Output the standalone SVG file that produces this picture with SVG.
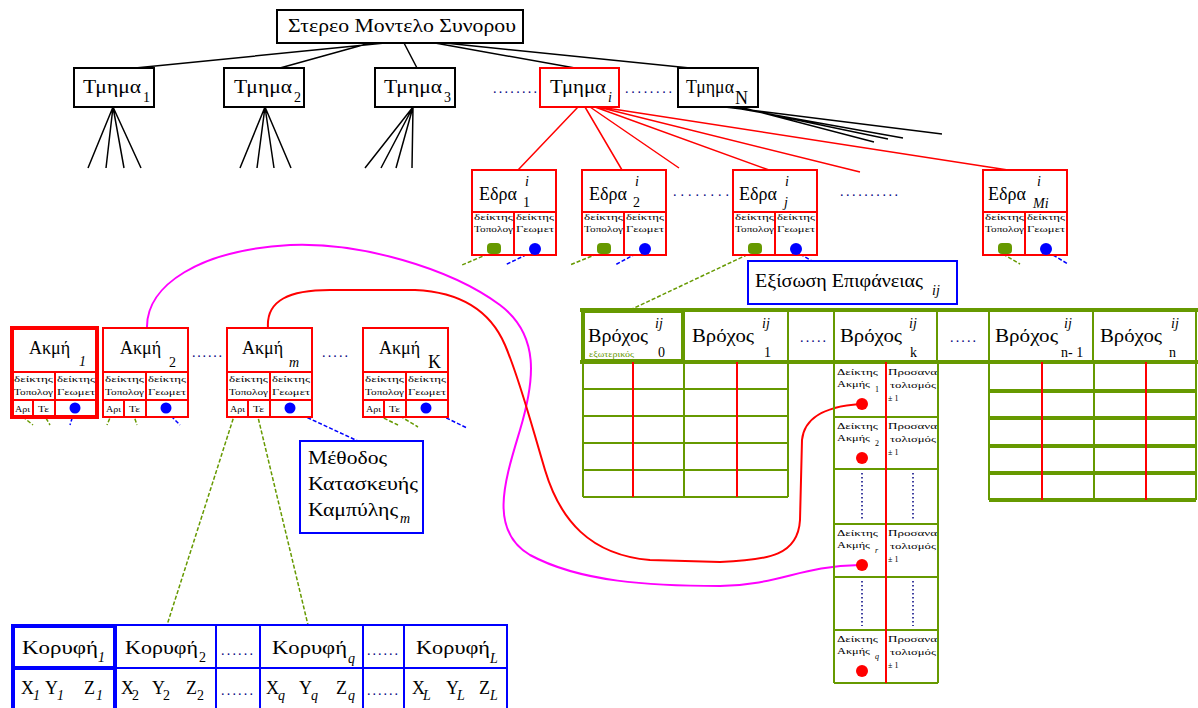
<svg xmlns="http://www.w3.org/2000/svg" width="1198" height="708" viewBox="0 0 1198 708">
<style>
text{font-family:"Liberation Serif","DejaVu Serif",serif;fill:#000}
.lbl{font-size:18px}
.sub{font-size:14px;font-style:italic}
.subn{font-size:14px}
.tiny{font-size:8px}
.dots{font-size:14px;fill:#000080}
.bx{fill:#fff;stroke:#000;stroke-width:2}
.rbx{fill:#fff;stroke:#f00;stroke-width:2}
.bbx{fill:#fff;stroke:#00f;stroke-width:2}
.kl{stroke:#000;stroke-width:1.5;fill:none}
.rl{stroke:#f00;stroke-width:1.5;fill:none}
.rl2{stroke:#f00;stroke-width:2;fill:none}
.gl{stroke:#669900;stroke-width:1.5;fill:none;stroke-dasharray:4 2}
.bl{stroke:#00f;stroke-width:1.5;fill:none;stroke-dasharray:4 2}
.gg{stroke:#669900;stroke-width:2;fill:none}
.gt{stroke:#669900;stroke-width:4;fill:none}
.rv{stroke:#f00;stroke-width:2;fill:none}
.bg{stroke:#00f;stroke-width:2;fill:none}
.vd{stroke:#000080;stroke-width:1.5;stroke-dasharray:1.5 2.5;fill:none}
.pk{stroke:#f0f;stroke-width:2;fill:none}
.rc{stroke:#f00;stroke-width:2;fill:none}
</style>
<defs>
<g id="edraBody">
<rect x="0" y="0" width="84" height="85" class="rbx"/>
<path d="M0,42H84M42,42V85" class="rl2"/>
<text class="tiny" x="2" y="50" textLength="39" lengthAdjust="spacingAndGlyphs">δείκτης</text>
<text class="tiny" x="2" y="62" textLength="39" lengthAdjust="spacingAndGlyphs">Τοπολογ</text>
<text class="tiny" x="44" y="50" textLength="38" lengthAdjust="spacingAndGlyphs">δείκτης</text>
<text class="tiny" x="44" y="62" textLength="38" lengthAdjust="spacingAndGlyphs">Γεωμετ</text>
<rect x="15" y="73" width="14" height="11" rx="4" fill="#669900"/>
<circle cx="63" cy="79" r="6" fill="#00f"/>
</g>
<g id="akmiBody">
<rect x="0" y="0" width="85" height="89" class="rbx"/>
<path d="M0,44H85M0,72H85M43,44V89M21,72V89" class="rl2"/>
<text class="tiny" x="2" y="54" textLength="39" lengthAdjust="spacingAndGlyphs">δείκτης</text>
<text class="tiny" x="2" y="67" textLength="39" lengthAdjust="spacingAndGlyphs">Τοπολογ</text>
<text class="tiny" x="45" y="54" textLength="38" lengthAdjust="spacingAndGlyphs">δείκτης</text>
<text class="tiny" x="45" y="67" textLength="38" lengthAdjust="spacingAndGlyphs">Γεωμετ</text>
<text class="tiny" x="3" y="84" textLength="15" lengthAdjust="spacingAndGlyphs">Αρι</text>
<text class="tiny" x="26" y="84" textLength="11" lengthAdjust="spacingAndGlyphs">Τε</text>
<circle cx="63" cy="80" r="5.5" fill="#00f"/>
</g>
</defs>
<rect width="1198" height="708" fill="#fff"/>

<g id="connectors">
<path class="kl" d="M385,43L135,68M370,43L280,68M404,43L417,68M435,43L575,68M445,43L690,68"/>
<path class="kl" d="M113,107L88,168M113,107L106,168M113,107L124,168M113,107L141,168"/>
<path class="kl" d="M265,107L240,168M265,107L257,168M265,107L274,168M265,107L291,168"/>
<path class="kl" d="M413,107L365,168M413,107L381,168M413,107L396,168M413,107L412,168"/>
<path class="kl" d="M725,107L942,134M730,107L903,138M735,107L888,139M740,107L874,142"/>
<path class="rl" d="M578,107L518,170M585,107L622,170M590,107L679,168M595,107L769,170M598,107L860,172M600,107L1008,170"/>
<path class="gl" d="M488,254L462,265M597,254L570,265M1003,254L1020,264M753,252L630,310"/>
<path class="bl" d="M532,252L505,265M641,251L615,265M1048,252L1068,264M795,251L812,261"/>
<path class="gl" d="M18,413L33,425M43,413L50,425M112,413L107,425M133,413L137,425M235,413L167,625M257,413L308,625M373,413L398,425M395,413L418,427"/>
<path class="bl" d="M74,412L70,425M167,412L180,425M291,410L360,442M430,410L467,428"/>
<path class="pk" d="M147,328C146,285 200,250 290,245C360,242 450,268 500,305C540,335 535,380 520,430C505,480 488,530 530,555C580,582 650,586 720,586C780,585 800,566 860,565"/>
<path class="rc" d="M268,328C266,300 290,290 330,290L415,290C460,292 490,310 505,345C520,380 530,420 545,470C560,520 590,555 650,560L720,562C770,560 798,555 800,520L802,440C804,420 820,407 860,404"/>
</g>

<g id="root">
<rect x="277" y="10" width="246" height="33" class="bx"/>
<text class="lbl" x="288" y="32" textLength="228" lengthAdjust="spacingAndGlyphs">Στερεο Μοντελο Συνορου</text>
</g>

<g id="tmima1"><rect x="74" y="68" width="80" height="39" class="bx"/><text class="lbl" x="83" y="93" textLength="58" lengthAdjust="spacingAndGlyphs">Τμημα</text><text class="subn" x="143" y="102">1</text></g>
<g id="tmima2"><rect x="224" y="68" width="80" height="39" class="bx"/><text class="lbl" x="234" y="93" textLength="58" lengthAdjust="spacingAndGlyphs">Τμημα</text><text class="subn" x="294" y="102">2</text></g>
<g id="tmima3"><rect x="375" y="68" width="80" height="39" class="bx"/><text class="lbl" x="384" y="93" textLength="58" lengthAdjust="spacingAndGlyphs">Τμημα</text><text class="subn" x="444" y="102">3</text></g>
<text class="dots" x="493" y="93" textLength="44">........</text>
<g id="tmimai"><rect x="540" y="68" width="79" height="39" class="rbx"/><text class="lbl" x="550" y="93" textLength="56" lengthAdjust="spacingAndGlyphs">Τμημα</text><text class="sub" x="608" y="102">i</text></g>
<text class="dots" x="625" y="93" textLength="47">........</text>
<g id="tmimaN"><rect x="678" y="68" width="80" height="39" class="bx"/><text class="lbl" x="686" y="93" textLength="48" lengthAdjust="spacingAndGlyphs">Τμημα</text><text class="lbl" x="735" y="104">N</text></g>

<g id="edra1"><use href="#edraBody" x="472" y="170"/><text class="lbl" x="479" y="200" font-size="17">Εδρα</text><text class="sub" x="525" y="186">i</text><text class="subn" x="523" y="207">1</text></g>
<g id="edra2"><use href="#edraBody" x="582" y="170"/><text class="lbl" x="589" y="200" font-size="17">Εδρα</text><text class="sub" x="635" y="186">i</text><text class="subn" x="633" y="207">2</text></g>
<text class="dots" x="673" y="196" textLength="56">........</text>
<g id="edraj"><use href="#edraBody" x="733" y="170"/><text class="lbl" x="739" y="200" font-size="17">Εδρα</text><text class="sub" x="785" y="186">i</text><text class="sub" x="784" y="207">j</text></g>
<text class="dots" x="840" y="196" textLength="58">..........</text>
<g id="edraMi"><use href="#edraBody" x="983" y="170"/><text class="lbl" x="988" y="200" font-size="17">Εδρα</text><text class="sub" x="1037" y="186">i</text><text class="sub" x="1033" y="208">Mi</text></g>

<g id="exisosi"><rect x="748" y="261" width="209" height="43" class="bbx"/><text class="lbl" x="755" y="287" font-size="17" textLength="168" lengthAdjust="spacingAndGlyphs">Εξίσωση Επιφάνειας</text><text class="sub" x="932" y="295">ij</text></g>

<g id="akmi1"><use href="#akmiBody" x="12" y="328"/><rect x="12" y="328" width="85" height="89" fill="none" stroke="#f00" stroke-width="4"/><path d="M12,400H55V417" class="rl2" stroke-width="3"/><text class="lbl" x="29" y="354" font-size="17">Ακμή</text><text class="sub" x="79" y="366">1</text></g>
<g id="akmi2"><use href="#akmiBody" x="103" y="328"/><text class="lbl" x="120" y="354" font-size="17">Ακμή</text><text class="subn" x="169" y="367">2</text></g>
<text class="dots" x="192" y="357" textLength="30">......</text>
<g id="akmim"><use href="#akmiBody" x="227" y="328"/><text class="lbl" x="242" y="354" font-size="17">Ακμή</text><text class="sub" x="289" y="367">m</text></g>
<text class="dots" x="322" y="357" textLength="26">.....</text>
<g id="akmiK"><use href="#akmiBody" x="363" y="328"/><text class="lbl" x="379" y="354" font-size="17">Ακμή</text><text class="lbl" x="428" y="368" font-size="16">K</text></g>

<g id="methodos"><rect x="300" y="441" width="123" height="92" class="bbx"/><text class="lbl" x="308" y="464" font-size="17" textLength="79" lengthAdjust="spacingAndGlyphs">Μέθοδος</text><text class="lbl" x="308" y="490" font-size="17" textLength="110" lengthAdjust="spacingAndGlyphs">Κατασκευής</text><text class="lbl" x="308" y="516" font-size="17" textLength="90" lengthAdjust="spacingAndGlyphs">Καμπύλης</text><text class="sub" x="400" y="523">m</text></g>

<g id="vrochoi">
<path class="gt" d="M580,310H1198M580,362H1198"/>
<rect x="583" y="311" width="100" height="50" fill="none" stroke="#669900" stroke-width="4"/>
<path class="gg" d="M788,310V362M834,310V362M937,310V362M989,310V362M1093,310V362M1196,310V362" stroke-width="2.5"/>
<path class="gg" d="M684,310V362" stroke-width="3"/>
<text class="lbl" x="588" y="342" font-size="17" textLength="60" lengthAdjust="spacingAndGlyphs">Βρόχος</text><text class="sub" x="655" y="328">ij</text><text class="subn" x="658" y="357">0</text>
<text x="589" y="357" font-size="8" style="fill:#669900" textLength="45" lengthAdjust="spacingAndGlyphs">εξωτερικός</text>
<text class="lbl" x="692" y="342" font-size="17" textLength="62" lengthAdjust="spacingAndGlyphs">Βρόχος</text><text class="sub" x="762" y="328">ij</text><text class="subn" x="764" y="357">1</text>
<text class="dots" x="800" y="342" textLength="26">.....</text>
<text class="lbl" x="840" y="342" font-size="17" textLength="62" lengthAdjust="spacingAndGlyphs">Βρόχος</text><text class="sub" x="909" y="328">ij</text><text class="subn" x="910" y="357">k</text>
<text class="dots" x="950" y="342" textLength="26">.....</text>
<text class="lbl" x="995" y="342" font-size="17" textLength="63" lengthAdjust="spacingAndGlyphs">Βρόχος</text><text class="sub" x="1064" y="328">ij</text><text class="subn" x="1061" y="357">n- 1</text>
<text class="lbl" x="1100" y="342" font-size="17" textLength="62" lengthAdjust="spacingAndGlyphs">Βρόχος</text><text class="sub" x="1171" y="328">ij</text><text class="subn" x="1169" y="357">n</text>
<path class="gg" d="M583,389H788M583,416H788M583,443H788M583,470H788M583,497H788M583,362V497M684,362V497M788,362V497"/>
<path class="rv" d="M633,362V497M737,362V497"/>
<path class="gg" d="M989,362V500M1094,362V500M1196,362V500" stroke-width="2.5"/>
<path class="gt" d="M989,391H1196M989,418H1196M989,446H1196M989,473H1196M989,500H1196"/>
<path class="rv" d="M1042,362V500M1146,362V500"/>
<path class="gg" d="M834,362V683M938,362V683M834,417H938M834,469H938M834,524H938M834,577H938M834,630H938M834,683H938"/>
<path class="rv" d="M886,362V683"/>
<path class="vd" d="M862,473V520M913,473V520M862,581V626M913,581V626"/>
<g>
<text class="tiny" x="837" y="375" textLength="41" lengthAdjust="spacingAndGlyphs">Δείκτης</text><text class="tiny" x="837" y="387" textLength="33" lengthAdjust="spacingAndGlyphs">Ακμής</text><text class="tiny" x="875" y="392">1</text>
<text class="tiny" x="888" y="375" textLength="49" lengthAdjust="spacingAndGlyphs">Προσανα</text><text class="tiny" x="890" y="388" textLength="46" lengthAdjust="spacingAndGlyphs">τολισμός</text><text class="tiny" x="888" y="401">± 1</text>
<text class="tiny" x="837" y="429" textLength="41" lengthAdjust="spacingAndGlyphs">Δείκτης</text><text class="tiny" x="837" y="441" textLength="33" lengthAdjust="spacingAndGlyphs">Ακμής</text><text class="tiny" x="875" y="446">2</text>
<text class="tiny" x="888" y="429" textLength="49" lengthAdjust="spacingAndGlyphs">Προσανα</text><text class="tiny" x="890" y="442" textLength="46" lengthAdjust="spacingAndGlyphs">τολισμός</text><text class="tiny" x="888" y="455">± 1</text>
<text class="tiny" x="837" y="536" textLength="41" lengthAdjust="spacingAndGlyphs">Δείκτης</text><text class="tiny" x="837" y="548" textLength="33" lengthAdjust="spacingAndGlyphs">Ακμής</text><text class="tiny" x="875" y="553" font-style="italic">r</text>
<text class="tiny" x="888" y="536" textLength="49" lengthAdjust="spacingAndGlyphs">Προσανα</text><text class="tiny" x="890" y="549" textLength="46" lengthAdjust="spacingAndGlyphs">τολισμός</text><text class="tiny" x="888" y="562">± 1</text>
<text class="tiny" x="837" y="642" textLength="41" lengthAdjust="spacingAndGlyphs">Δείκτης</text><text class="tiny" x="837" y="654" textLength="33" lengthAdjust="spacingAndGlyphs">Ακμής</text><text class="tiny" x="875" y="659" font-style="italic">q</text>
<text class="tiny" x="888" y="642" textLength="49" lengthAdjust="spacingAndGlyphs">Προσανα</text><text class="tiny" x="890" y="655" textLength="46" lengthAdjust="spacingAndGlyphs">τολισμός</text><text class="tiny" x="888" y="668">± 1</text>
</g>
<circle cx="862" cy="404" r="6" fill="#f00"/><circle cx="862" cy="458" r="6" fill="#f00"/><circle cx="862" cy="565" r="6" fill="#f00"/><circle cx="862" cy="671" r="6" fill="#f00"/>
</g>

<g id="koryfes">
<rect x="12" y="625" width="495" height="90" class="bbx"/>
<path class="bg" d="M12,668H507M115,625V708M216,625V708M260,625V708M363,625V708M404,625V708"/>
<rect x="13" y="626" width="102" height="88" fill="none" stroke="#00f" stroke-width="4"/>
<path d="M13,668H115" stroke="#00f" stroke-width="4"/>
<text class="lbl" x="22" y="654" font-size="17" textLength="76" lengthAdjust="spacingAndGlyphs">Κορυφή</text><text class="sub" x="98" y="662">1</text>
<text class="lbl" x="125" y="654" font-size="17" textLength="73" lengthAdjust="spacingAndGlyphs">Κορυφή</text><text class="subn" x="199" y="662">2</text>
<text class="dots" x="221" y="655" textLength="32">......</text>
<text class="lbl" x="272" y="654" font-size="17" textLength="75" lengthAdjust="spacingAndGlyphs">Κορυφή</text><text class="sub" x="348" y="663">q</text>
<text class="dots" x="367" y="655" textLength="31">......</text>
<text class="lbl" x="416" y="654" font-size="17" textLength="74" lengthAdjust="spacingAndGlyphs">Κορυφή</text><text class="sub" x="490" y="663">L</text>
<text class="lbl" x="21" y="694" font-size="17">X</text><text class="sub" x="33" y="700">1</text><text class="lbl" x="45" y="694" font-size="17">Y</text><text class="sub" x="57" y="700">1</text><text class="lbl" x="84" y="694" font-size="17">Z</text><text class="sub" x="96" y="700">1</text>
<text class="lbl" x="121" y="694" font-size="17">X</text><text class="subn" x="132" y="700">2</text><text class="lbl" x="152" y="694" font-size="17">Y</text><text class="subn" x="163" y="700">2</text><text class="lbl" x="186" y="694" font-size="17">Z</text><text class="subn" x="197" y="700">2</text>
<text class="dots" x="221" y="695" textLength="32">......</text>
<text class="lbl" x="266" y="694" font-size="17">X</text><text class="sub" x="278" y="700">q</text><text class="lbl" x="299" y="694" font-size="17">Y</text><text class="sub" x="311" y="700">q</text><text class="lbl" x="336" y="694" font-size="17">Z</text><text class="sub" x="348" y="700">q</text>
<text class="dots" x="367" y="695" textLength="31">......</text>
<text class="lbl" x="412" y="694" font-size="17">X</text><text class="sub" x="423" y="700">L</text><text class="lbl" x="446" y="694" font-size="17">Y</text><text class="sub" x="457" y="700">L</text><text class="lbl" x="479" y="694" font-size="17">Z</text><text class="sub" x="490" y="700">L</text>
</g>
</svg>
